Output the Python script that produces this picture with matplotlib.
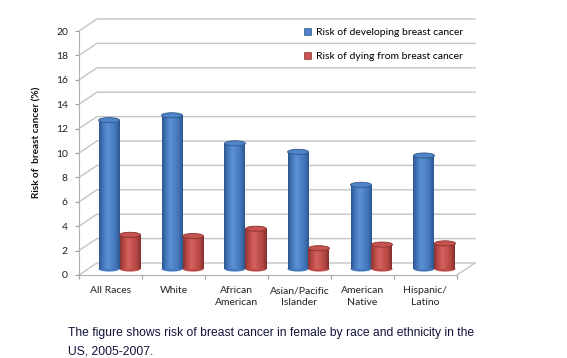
"""Risk of breast cancer by race/ethnicity: Excel-style 3D cylinder chart."""

import matplotlib

matplotlib.use("Agg")
import matplotlib.pyplot as plt
import numpy as np
from matplotlib.colors import LinearSegmentedColormap
from matplotlib.patches import Ellipse, Patch

categories = [
    "All Races",
    "White",
    "African\nAmerican",
    "Asian/Pacific\nIslander",
    "American\nNative",
    "Hispanic/\nLatino",
]
developing = [12.2, 12.6, 10.3, 9.6, 6.9, 9.3]
dying = [2.8, 2.7, 3.3, 1.7, 2.0, 2.1]
series_labels = ["Risk of developing breast cancer", "Risk of dying from breast cancer"]
y_ticks = list(range(0, 21, 2))
y_label = "Risk of  breast cancer (%)"
caption = (
    "The figure shows risk of breast cancer in female by race and ethnicity in the\n"
    "US, 2005-2007."
)

W, H, DPI = 567, 358, 100
FONT = ["Lato", "DejaVu Sans"]
GRID = "#c4c4c4"

fig = plt.figure(figsize=(W / DPI, H / DPI), dpi=DPI)
ax = fig.add_axes([79 / W, 83 / H, 378 / W, 244 / H])

# depth of the fake 3D box in data units (18 px right, 12 px up)
DX = 18 * 6 / 378
DY = 12 * 20 / 244
BAR_W = 1 / 3
ELL_H = 0.42

# back wall + left wall gridlines
for v in y_ticks:
    ax.plot([-0.5, -0.5 + DX, 5.5 + DX], [v, v + DY, v + DY],
            color=GRID, lw=1.0, clip_on=False, zorder=0)
ax.plot([5.5, 5.5 + DX], [0, DY], color=GRID, lw=1.0, clip_on=False, zorder=0)

styles = [
    (developing, -BAR_W / 2,
     ["#2c5890", "#4578bc", "#5c92d4", "#4f84c8", "#4275b8", "#2c578f"],
     "#4f84c8", "#2f5689"),
    (dying, BAR_W / 2,
     ["#8a3432", "#bc4b48", "#d4625f", "#c5534f", "#b54744", "#82302e"],
     "#c5534f", "#8a302e"),
]

x = np.arange(len(categories))
grad = np.linspace(0, 1, 64).reshape(1, -1)
handles = []
for (vals, shift, cols, top_c, edge_c), lab in zip(styles, series_labels):
    cmap = LinearSegmentedColormap.from_list("cyl", cols)
    xs = x + DX / 2 + shift
    bars = ax.bar(xs, vals, BAR_W, bottom=DY / 2, color=cols[3], lw=0, zorder=3)
    handles.append(Patch(facecolor=top_c, edgecolor=edge_c, lw=0.5, label=lab))
    for bar, xc, v in zip(bars, xs, vals):
        x0 = xc - BAR_W / 2
        im = ax.imshow(grad, cmap=cmap, aspect="auto", zorder=3,
                       extent=[x0, x0 + BAR_W, DY / 2, DY / 2 + v])
        im.set_clip_path(bar)
        ax.add_patch(Ellipse((xc, DY / 2), BAR_W, ELL_H, facecolor=cols[1],
                             edgecolor="none", zorder=2.5))
        ax.add_patch(Ellipse((xc, DY / 2 + v), BAR_W, ELL_H, facecolor=top_c,
                             edgecolor=edge_c, lw=0.6, zorder=4))

ax.set_xlim(-0.5, 5.5)
ax.set_ylim(0, 20)

ax.set_yticks(y_ticks)
ax.set_yticklabels([str(t) for t in y_ticks], fontsize=7.5, family=FONT, color="#222222")
ax.tick_params(axis="y", length=3, width=0.8, color="#a0a0a0", pad=5)
ax.set_xticks(x)
ax.set_xticklabels(categories, fontsize=7.5, family=FONT, color="#222222",
                   linespacing=1.35)
ax.set_xticks(np.arange(-0.5, 6, 1), minor=True)
ax.tick_params(axis="x", which="major", length=0, pad=8)
ax.tick_params(axis="x", which="minor", length=3, width=0.8, color="#a0a0a0")

for side in ("top", "right"):
    ax.spines[side].set_visible(False)
for side in ("left", "bottom"):
    ax.spines[side].set_color("#b0b0b0")
    ax.spines[side].set_linewidth(0.8)
ax.patch.set_alpha(0)

fig.text(37 / W, 1 - 142 / H, y_label, rotation=90, ha="center", va="center",
         fontsize=7.2, fontweight="bold", family=FONT, color="#111111")

fig.legend(handles=handles, loc="upper left", bbox_to_anchor=(304 / W, 1 - 28 / H),
           frameon=False, prop={"family": FONT, "size": 7.5},
           handlelength=0.7, handleheight=0.7, handletextpad=0.5,
           labelspacing=1.4, borderpad=0, borderaxespad=0)

fig.text(68 / W, 1 - 327 / H, caption, ha="left", va="top", fontsize=8.7,
         family="Liberation Sans", color="#14143c", linespacing=1.75)

fig.savefig("out.png", dpi=DPI)
